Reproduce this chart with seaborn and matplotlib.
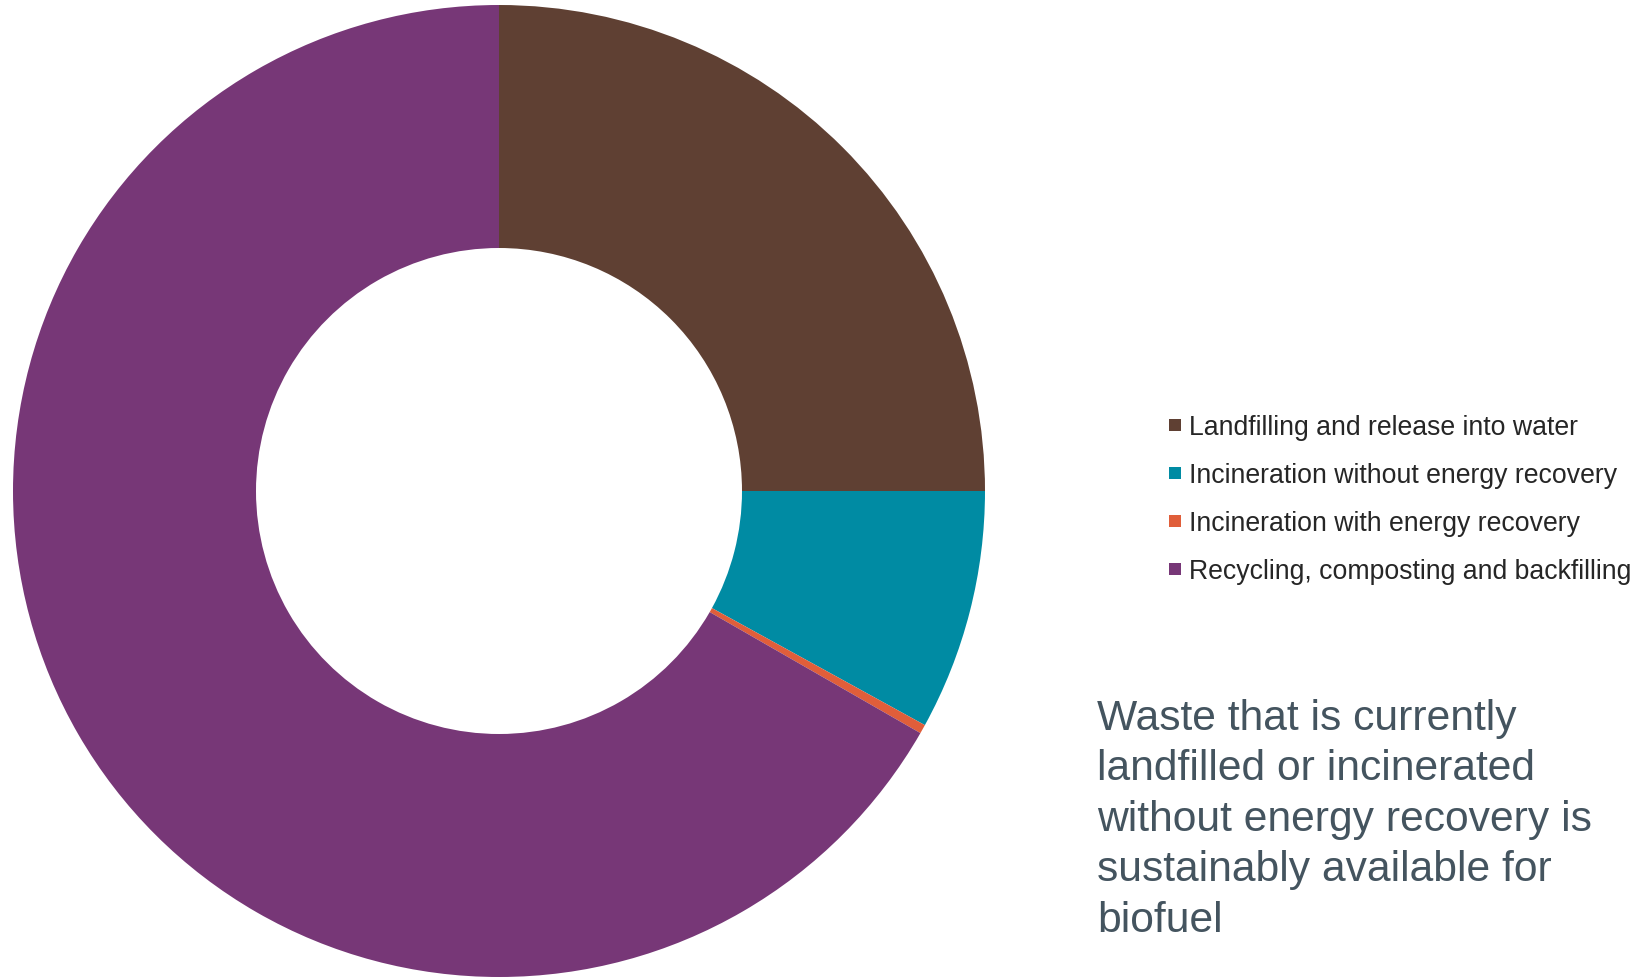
import matplotlib
matplotlib.use("Agg")
import matplotlib.pyplot as plt
import seaborn as sns
from matplotlib.lines import Line2D

# Datos del gráfico (porcentaje del residuo por destino)
categories = [
    "Landfilling and release into water",
    "Incineration without energy recovery",
    "Incineration with energy recovery",
    "Recycling, composting and backfilling",
]
shares = [25.0, 8.0, 0.3, 66.7]
colors = ["#5f4033", "#008ba3", "#e05e3a", "#773777"]
note = ("Waste that is currently\nlandfilled or incinerated\n"
        "without energy recovery is\nsustainably available for\nbiofuel")

sns.set_theme(style="white")
plt.rcParams["font.family"] = ["Liberation Sans", "DejaVu Sans"]

W, H = 1649, 979
fig = plt.figure(figsize=(W / 100, H / 100), dpi=100)

# Donut: centro ~(499, 492) px, radio ~486 px
cx, cy, r = 499, 492, 486
ax = fig.add_axes([(cx - r) / W, 1 - (cy + r) / H, 2 * r / W, 2 * r / H])
ax.pie(shares, colors=colors, startangle=90, counterclock=False,
       radius=1.0, wedgeprops=dict(width=0.5, linewidth=0))
ax.set_xlim(-1, 1)
ax.set_ylim(-1, 1)
ax.set_aspect("equal")
ax.axis("off")

# Leyenda
handles = [Line2D([], [], marker="s", linestyle="none", markersize=8.5,
                  markerfacecolor=c, markeredgewidth=0) for c in colors]
fig.legend(handles, categories, loc="upper left",
           bbox_to_anchor=(1168 / W, 1 - 415 / H), frameon=False,
           fontsize=19.2, handlelength=0.55, handletextpad=0.22,
           labelspacing=0.83, borderpad=0, borderaxespad=0)

# Nota
fig.text(1097 / W, 1 - 699 / H, note, ha="left", va="top",
         fontsize=30.7, color="#44545f", linespacing=1.335)

fig.savefig("out.png", dpi=100)
